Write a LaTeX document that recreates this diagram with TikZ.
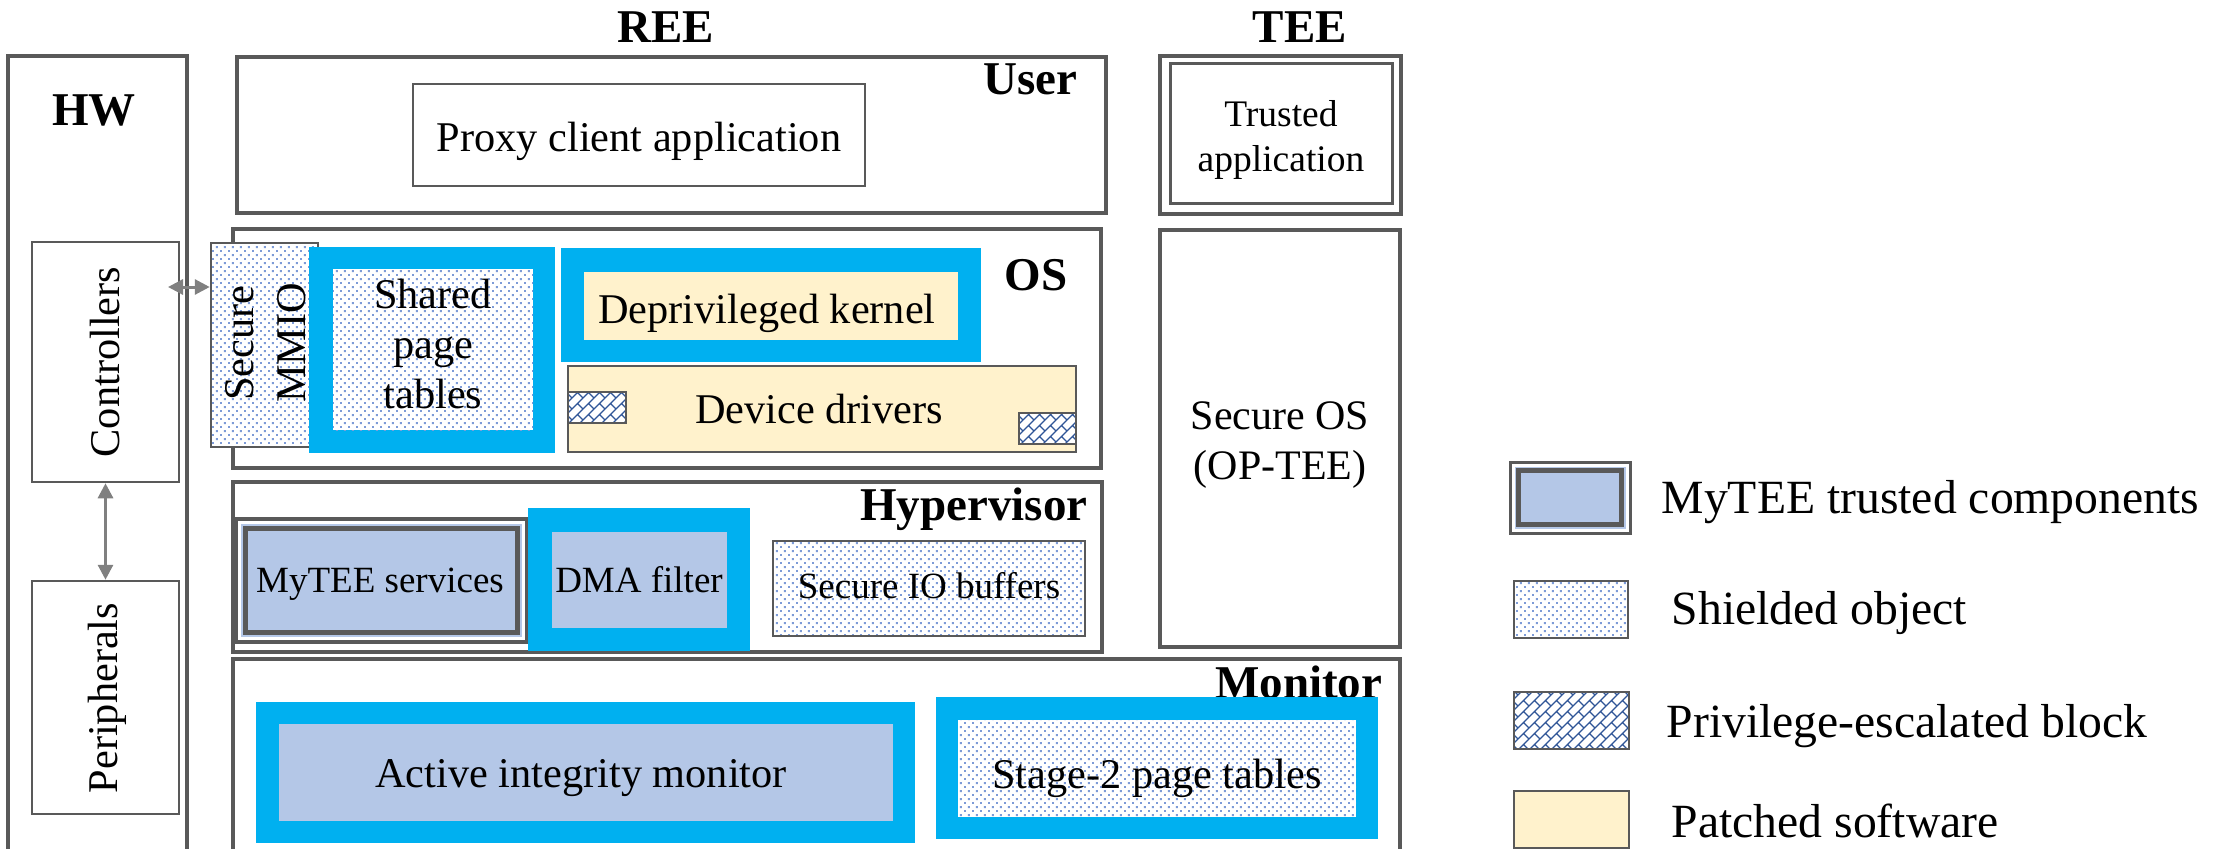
\documentclass[tikz,border=0pt]{standalone}
\usepackage{fontspec}
\setmainfont{Liberation Serif}
\usetikzlibrary{arrows.meta,patterns,fit}

\definecolor{linegray}{RGB}{89,89,89}
\definecolor{arrowgray}{RGB}{128,128,128}
\definecolor{cyanblue}{RGB}{0,176,240}
\definecolor{paleblue}{RGB}{180,199,231}
\definecolor{cream}{RGB}{255,242,204}
\definecolor{dotblue}{RGB}{125,155,215}
\definecolor{hatchblue}{RGB}{47,85,151}

% staggered fine dots for shielded objects
\pgfdeclarepatternformonly{shielddots}{\pgfqpoint{0pt}{0pt}}{\pgfqpoint{2.4pt}{2.4pt}}{\pgfqpoint{2.4pt}{2.4pt}}{%
  \pgfpathrectangle{\pgfqpoint{0.3pt}{0.3pt}}{\pgfqpoint{0.55pt}{0.55pt}}%
  \pgfpathrectangle{\pgfqpoint{1.5pt}{1.5pt}}{\pgfqpoint{0.55pt}{0.55pt}}%
  \pgfusepath{fill}}

% diagonal brick hatch for privilege-escalated blocks (staggered joints)
\pgfdeclarepatternformonly{brickhatch}{\pgfqpoint{-0.3pt}{-0.3pt}}{\pgfqpoint{3.6pt}{6.9pt}}{\pgfqpoint{3.3pt}{6.6pt}}{%
  \pgfsetlinewidth{0.35pt}%
  \pgfpathmoveto{\pgfqpoint{0pt}{0pt}}\pgfpathlineto{\pgfqpoint{3.3pt}{3.3pt}}%
  \pgfpathmoveto{\pgfqpoint{0pt}{3.3pt}}\pgfpathlineto{\pgfqpoint{3.3pt}{6.6pt}}%
  \pgfpathmoveto{\pgfqpoint{1.65pt}{1.65pt}}\pgfpathlineto{\pgfqpoint{3.3pt}{0pt}}%
  \pgfpathmoveto{\pgfqpoint{1.65pt}{4.95pt}}\pgfpathlineto{\pgfqpoint{3.3pt}{3.3pt}}%
  \pgfusepath{stroke}}

\tikzset{
  layerbox/.style={draw=linegray, line width=1.05pt, inner sep=0pt},
  thinbox/.style={draw=linegray, line width=0.75pt, inner sep=0pt},
  bluefr/.style={fill=cyanblue, inner sep=0pt},
  shield/.style={preaction={fill=white}, pattern=shielddots, pattern color=dotblue, inner sep=0pt},
  patched/.style={fill=cream, inner sep=0pt},
  trustfill/.style={fill=paleblue, inner sep=0pt},
  escal/.style={preaction={fill=white}, pattern=brickhatch, pattern color=hatchblue,
                draw=linegray, line width=0.75pt, inner sep=0pt},
  lbl/.style={inner sep=0pt, anchor=base, font=\fontsize{12.7}{15}\selectfont},
  smalllbl/.style={inner sep=0pt, anchor=base, font=\fontsize{11.1}{13}\selectfont},
  head/.style={inner sep=0pt, font=\fontsize{14.1}{17}\selectfont\bfseries},
  legtxt/.style={inner sep=0pt, anchor=base west, font=\fontsize{14.3}{17}\selectfont},
  biarrow/.style={draw=arrowgray, line width=0.9pt,
    {Triangle[length=4.5pt,width=4.5pt]}-{Triangle[length=4.5pt,width=4.5pt]}},
}

\begin{document}
\begin{tikzpicture}[x=0.3pt, y=-0.3pt]
\useasboundingbox (0,0) rectangle (2227,849);
\clip (0,0) rectangle (2227,849);

% column headings
\node[head, anchor=base] (ree) at (666,43) {REE};
\node[head, anchor=base] (tee) at (1300,43) {TEE};

% hardware column
\node[layerbox, fit={(8,56)(187,900)}] (hw) {};
\node[head, anchor=base] (hwlbl) at (94,126) {HW};
\node[thinbox, fit={(32,242)(179,482)}] (ctrl) {};
\node[lbl, rotate=90] (ctrltxt) at (119,362) {Controllers};
\node[thinbox, fit={(32,581)(179,814)}] (periph) {};
\node[lbl, rotate=90] (periphtxt) at (117,698) {Peripherals};
\draw[biarrow] (ctrl.south) -- (periph.north);

% user level
\node[layerbox, fit={(237,57)(1106,213)}] (user) {};
\node[head, anchor=base east] (userlbl) at (1078,95) {User};
\node[thinbox, fit={(413,84)(865,186)}] (proxy) {};
\node[lbl] (proxytxt) at (639,152) {Proxy client application};

% kernel level
\node[layerbox, fit={(233,229)(1101,468)}] (os) {};
\node[head, anchor=base east] (oslbl) at (1068,290) {OS};
\node[shield, thinbox, fit={(211,243)(318,447)}] (mmio) {};
\node[lbl, rotate=90] (mmioa) at (253,343) {Secure};
\node[lbl, rotate=90] (mmiob) at (305,343) {MMIO};
\coordinate (ctrlport) at (168,287);
\draw[biarrow] (ctrlport) -- (mmio.west |- ctrlport);
\node[bluefr, fit={(309,247)(555,453)}] (sptfr) {};
\node[shield, fit={(333,269)(533,430)}] (spt) {};
\node[lbl] (spta) at (433,308) {Shared};
\node[lbl] (sptb) at (433,358) {page};
\node[lbl] (sptc) at (433,408) {tables};
\node[bluefr, fit={(561,248)(981,362)}] (dkfr) {};
\node[patched, fit={(584,272)(958,340)}] (dk) {};
\node[lbl] (dktxt) at (767,323) {Deprivileged kernel};
\node[patched, thinbox, fit={(568,366)(1076,452)}] (dd) {};
\node[escal, fit={(568,392)(626,423)}] (esca) {};
\node[escal, fit={(1019,413)(1076,444)}] (escb) {};
\node[lbl] (ddtxt) at (819,423) {Device drivers};

% hypervisor level
\node[layerbox, fit={(233,482)(1102,652)}] (hyp) {};
\node[head, anchor=base east] (hyplbl) at (1088,520) {Hypervisor};
\node[layerbox, fill=white, fit={(236,519)(527,642)}] (mytee) {};
\node[trustfill, fit={(241,524)(522,637)}] (myteeband) {};
\node[draw=linegray, line width=1.35pt, fill=paleblue, inner sep=0pt, fit={(245.5,528.5)(517.5,632.5)}] (myteein) {};
\node[smalllbl] (myteetxt) at (380,592) {MyTEE services};
\node[bluefr, fit={(528,508)(750,651)}] (dmafr) {};
\node[trustfill, fit={(552,532)(727,628)}] (dma) {};
\node[smalllbl] (dmatxt) at (639,592) {DMA filter};
\node[shield, thinbox, fit={(773,541)(1085,636)}] (sio) {};
\node[smalllbl] (siotxt) at (929,598) {Secure IO buffers};

% monitor level
\node[layerbox, fit={(233,659)(1400,900)}] (mon) {};
\node[head, anchor=base east] (monlbl) at (1383,698) {Monitor};
\node[bluefr, fit={(256,702)(915,843)}] (aimfr) {};
\node[trustfill, fit={(279,724)(893,821)}] (aim) {};
\node[lbl] (aimtxt) at (581,787) {Active integrity monitor};
\node[bluefr, fit={(936,697)(1378,839)}] (stfr) {};
\node[shield, fit={(958,720)(1356,817)}] (st) {};
\node[lbl] (sttxt) at (1157,788) {Stage-2 page tables};

% secure world
\node[layerbox, fit={(1160,56)(1401,214)}] (ta) {};
\node[draw=linegray, line width=0.9pt, inner sep=0pt, fit={(1170,64)(1392,204)}] (tain) {};
\node[lbl, font=\fontsize{11.25}{13}\selectfont] (taa) at (1281,127) {Trusted};
\node[lbl, font=\fontsize{11.25}{13}\selectfont] (tab) at (1281,171) {application};
\node[layerbox, fit={(1160,230)(1400,647)}] (sos) {};
\node[lbl, font=\fontsize{12.6}{15}\selectfont] (sosa) at (1280,429) {Secure OS};
\node[lbl, font=\fontsize{12.6}{15}\selectfont] (sosb) at (1280,479) {(OP-TEE)};

% legend
\node[draw=linegray, line width=0.9pt, fill=white, inner sep=0pt, fit={(1510,462)(1630,533)}] (lega) {};
\node[trustfill, fit={(1514.5,466.5)(1625.5,528.5)}] (legaband) {};
\node[draw=linegray, line width=1.4pt, fill=paleblue, inner sep=0pt, fit={(1518.5,470.5)(1621.5,524.5)}] (legain) {};
\node[legtxt] (legatxt) at (1661,513) {MyTEE trusted components};
\node[shield, thinbox, fit={(1514,581)(1628,638)}] (legb) {};
\node[legtxt] (legbtxt) at (1671,624) {Shielded object};
\node[escal, fit={(1514,692)(1629,749)}] (legc) {};
\node[legtxt] (legctxt) at (1666,737) {Privilege-escalated block};
\node[patched, thinbox, fit={(1514,791)(1629,848)}] (legd) {};
\node[legtxt] (legdtxt) at (1671,837) {Patched software};
\end{tikzpicture}
\end{document}
